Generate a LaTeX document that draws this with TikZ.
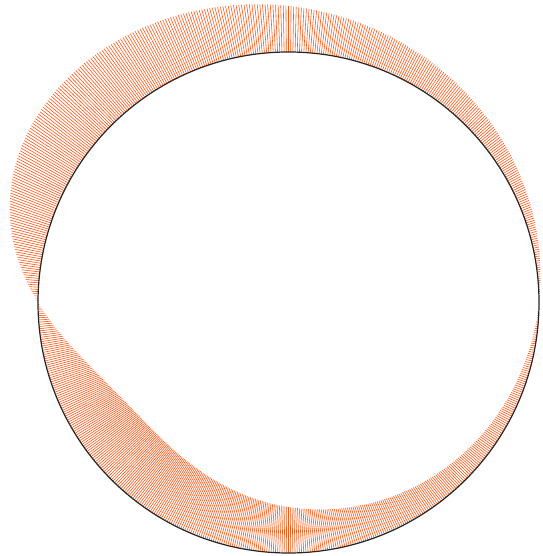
\documentclass[tikz,border=0pt]{standalone}
\usepackage{xcolor}
\usepackage{tikz}
\definecolor{ribbonorange}{RGB}{255,85,20}
\tikzset{
  rib/.style={draw=ribbonorange, line width=0.6pt},
  rim/.style={draw=black!85, line width=1.2pt}
}
\begin{document}
\begin{tikzpicture}[x=1pt,y=1pt]
\useasboundingbox (0,0) rectangle (542,556);
\coordinate (c) at (288.5,253.5);
\foreach \t in {0,0.5,...,359.5}{
  \pgfmathsetmacro{\w}{46*sin(\t)/(1+0.7*cos(\t))}
  \draw[rib] (c) ++(\t:250.5) -- ++(\t:\w);
}
\draw[rim] (c) circle[radius=250.5pt];
\end{tikzpicture}
\end{document}
